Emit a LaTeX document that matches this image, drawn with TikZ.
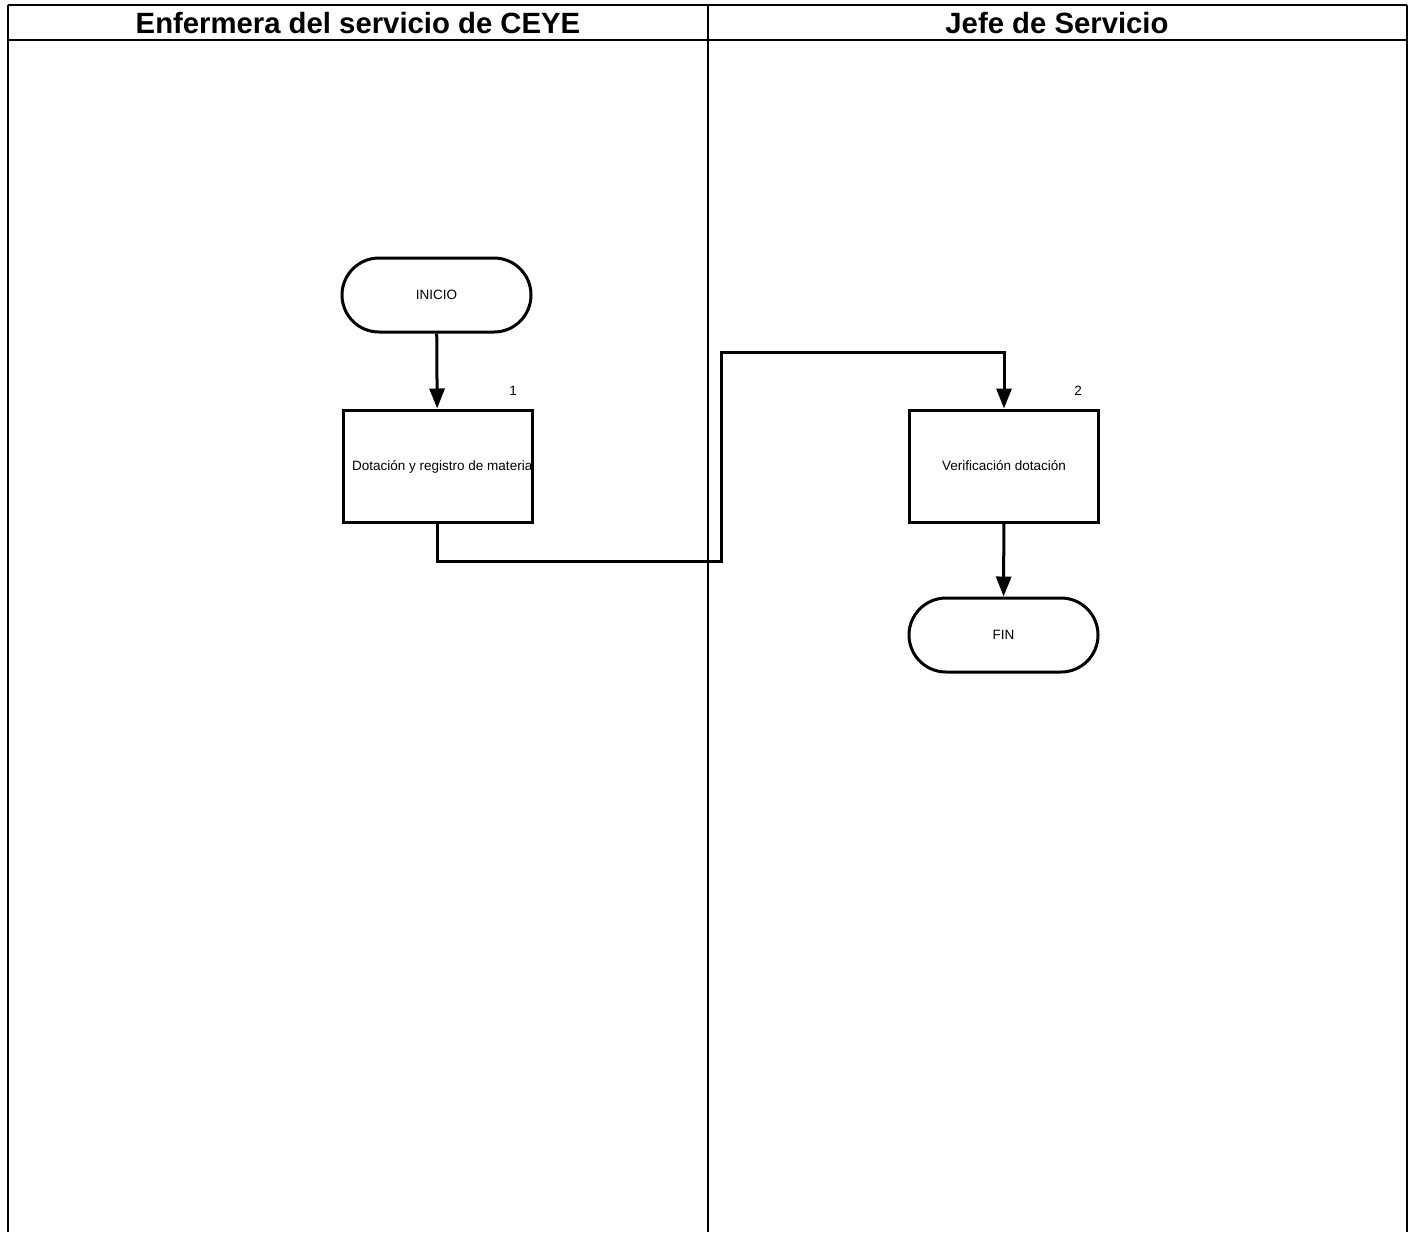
\documentclass[tikz,border=0pt]{standalone}
\usepackage{fontspec}
\setmainfont{Liberation Sans}
\usetikzlibrary{arrows.meta}
\begin{document}
\begin{tikzpicture}[x=1pt, y=-1pt,
  every node/.style={font=\fontsize{13.5}{16}\selectfont, inner sep=0pt},
  lanehead/.style={font=\fontsize{29.3}{33}\selectfont\bfseries},
  term/.style={draw, line width=3pt, minimum width=189pt, minimum height=74pt, rounded corners=37pt},
  proc/.style={draw, line width=3pt, minimum width=189pt, minimum height=112pt},
  flow/.style={line width=3pt, -{Triangle[length=20pt, width=15pt]}},
  link/.style={line width=3pt}]
  \useasboundingbox (0,0) rectangle (1412,1232);
  % swimlanes
  \draw[line width=2pt] (8,5) -- (1407,5) (8,40) -- (1407,40);
  \draw[line width=1.3pt] (8,5) -- (8,1232) (708,5) -- (708,1232) (1407,5) -- (1407,1232);
  \node[lanehead] (lane1) at (358,23) {Enfermera del servicio de CEYE};
  \node[lanehead] (lane2) at (1057,23) {Jefe de Servicio};
  % steps
  \node[term] (inicio) at (436.5,295) {INICIO};
  \node[proc] (dotacion) at (437.5,466) {};
  \begin{scope}
    \clip (dotacion.south west) rectangle (dotacion.north east);
    \node[anchor=west] (dotaciontxt) at (352,467) {Dotación y registro de material};
  \end{scope}
  \node (num1) at (513,391) {1};
  \node[proc] (verif) at (1004,466) {\raisebox{-1.5pt}{Verificación dotación}};
  \node (num2) at (1078,391) {2};
  \node[term] (fin) at (1003.5,635) {FIN};
  % connectors
  \coordinate (b1) at (721,561);
  \coordinate (b2) at (721,352);
  \draw[flow] (inicio) -- (dotacion);
  \draw[flow] (dotacion.south) |- (b1) -- (b2) -| (verif.north);
  \draw[flow] (verif) -- (fin);
\end{tikzpicture}
\end{document}
